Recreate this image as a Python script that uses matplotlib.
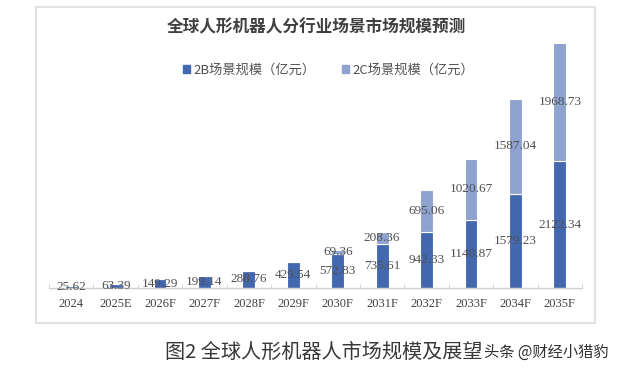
import matplotlib
matplotlib.use("Agg")
import matplotlib.pyplot as plt
from matplotlib.patches import Rectangle
import numpy as np

categories = ["2024", "2025E", "2026F", "2027F", "2028F", "2029F",
              "2030F", "2031F", "2032F", "2033F", "2034F", "2035F"]
b2b_values = [25.62, 63.39, 149.29, 199.14, 288.76, 429.54,
              572.83, 735.61, 942.33, 1140.87, 1579.23, 2122.34]
b2c_values = [0, 0, 0, 0, 0, 0,
              69.36, 208.36, 695.06, 1020.67, 1587.04, 1968.73]
series_names = ["2B场景规模（亿元）", "2C场景规模（亿元）"]
title_text = "全球人形机器人分行业场景市场规模预测"
caption_text = "图2 全球人形机器人市场规模及展望"
watermark_text = "头条 @财经小猎豹"

cjk = ["Noto Sans CJK SC", "DejaVu Sans"]
serif = ["Liberation Serif", "DejaVu Serif"]

c2b = "#4468b0"
c2c = "#8fa3d0"
label_color = "#505050"

fig = plt.figure(figsize=(6.21, 3.70), dpi=100)
fig.patch.set_facecolor("white")

# chart frame
fig.patches.append(Rectangle((36 / 621, 1 - 323 / 370), (595 - 36) / 621, (323 - 7) / 370,
                             transform=fig.transFigure, fill=False,
                             edgecolor="#e2e2e2", linewidth=1.5))

ax = fig.add_axes([49 / 621, 1 - 288 / 370, 533 / 621, 269 / 370])
x = np.arange(len(categories))
w = 0.29
ax.bar(x, b2b_values, width=w, color=c2b, edgecolor="white", linewidth=0.8)
ax.bar(x, b2c_values, width=w, bottom=b2b_values, color=c2c, edgecolor="white", linewidth=0.8)

for i in range(len(categories)):
    ax.text(x[i], b2b_values[i] / 2, f"{b2b_values[i]:.2f}", ha="center", va="center",
            fontsize=9.5, family=serif, color=label_color)
    if b2c_values[i] > 0:
        ax.text(x[i], b2b_values[i] + b2c_values[i] / 2, f"{b2c_values[i]:.2f}",
                ha="center", va="center", fontsize=9.5, family=serif, color=label_color)

ax.set_xlim(-0.5, len(categories) - 0.5)
ax.set_ylim(0, 4500)
ax.set_xticks(x)
ax.set_xticklabels(categories, family=serif, fontsize=9, color="#404040")
ax.tick_params(axis="x", which="major", length=0, pad=7)
ax.set_xticks(np.arange(-0.5, len(categories), 1), minor=True)
ax.tick_params(axis="x", which="minor", length=3, color="#d0d0d0", direction="in")
ax.set_yticks([])
for s in ["top", "right", "left"]:
    ax.spines[s].set_visible(False)
ax.spines["bottom"].set_color("#d0d0d0")
ax.spines["bottom"].set_linewidth(1)

# title
fig.text(316 / 621, 1 - 27 / 370, title_text, ha="center", va="center",
         fontsize=12, fontweight="bold", family=cjk, color="#404040")

# legend
handles = [Rectangle((0, 0), 1, 1, color=c2b), Rectangle((0, 0), 1, 1, color=c2c)]
leg = fig.legend(handles, series_names, loc="center", bbox_to_anchor=(329 / 621, 1 - 70 / 370),
                 ncol=2, frameon=False, prop={"family": cjk, "size": 9.5},
                 handlelength=0.5, handleheight=0.5, handletextpad=0.3, columnspacing=2.0)
for t in leg.get_texts():
    t.set_color("#505050")

# caption + watermark
fig.text(165 / 621, 1 - 352 / 370, caption_text, ha="left", va="center",
         fontsize=14.5, family=cjk, color="#383838")
fig.text(484 / 621, 1 - 352 / 370, watermark_text, ha="left", va="center",
         fontsize=11, family=cjk, color="#303030")

fig.savefig("out.png", dpi=100)
